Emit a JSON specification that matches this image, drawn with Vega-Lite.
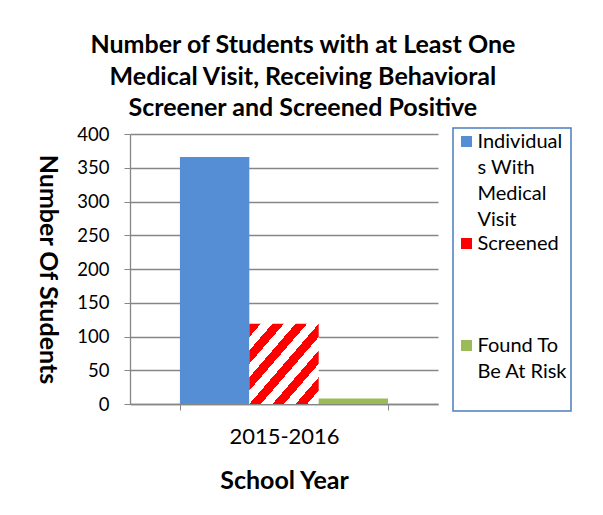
{
  "$schema": "https://vega.github.io/schema/vega-lite/v6.json",
  "width": 308,
  "height": 270,
  "autosize": {"type": "none"},
  "padding": {"left": 130, "top": 134, "right": 165, "bottom": 111},
  "background": "white",
  "config": {
    "font": "Lato",
    "view": {"stroke": null},
    "style": {"guide-label": {"lineHeight": 26}},
    "legend": {"strokeWidth": 1.5}
  },
  "title": {
    "text": ["Number of Students with at Least One", "Medical Visit, Receiving Behavioral", "Screener and Screened Positive"],
    "fontSize": 25,
    "fontWeight": "bold",
    "lineHeight": 31.5,
    "color": "black",
    "anchor": "middle",
    "frame": "bounds",
    "offset": 4
  },
  "data": {
    "values": [
      {"year": "2015-2016", "series": "Individuals With Medical Visit", "students": 366},
      {"year": "2015-2016", "series": "Screened", "students": 119},
      {"year": "2015-2016", "series": "Found To Be At Risk", "students": 8}
    ]
  },
  "mark": {"type": "bar"},
  "encoding": {
    "x": {
      "field": "year",
      "type": "nominal",
      "scale": {"paddingInner": 0, "paddingOuter": 0.24},
      "axis": {
        "title": "School Year",
        "titleFontSize": 25,
        "titleFontWeight": "bold",
        "titleColor": "black",
        "titlePadding": 21,
        "labelFontSize": 22,
        "labelColor": "black",
        "labelAngle": 0,
        "labelPadding": 16,
        "tickBand": "extent",
        "tickSize": 6,
        "tickColor": "#868686",
        "domainColor": "#868686",
        "domainWidth": 1.3
      }
    },
    "xOffset": {
      "field": "series",
      "sort": ["Individuals With Medical Visit", "Screened", "Found To Be At Risk"],
      "scale": {"paddingInner": 0, "paddingOuter": 0}
    },
    "y": {
      "field": "students",
      "type": "quantitative",
      "scale": {"domain": [0, 400], "nice": false},
      "axis": {
        "title": "Number Of Students",
        "titleFontSize": 25,
        "titleFontWeight": "bold",
        "titleColor": "black",
        "titleAngle": 90,
        "titleX": -83,
        "titleY": 135,
        "titleAlign": "center",
        "titleBaseline": "middle",
        "labelFontSize": 18.5,
        "labelColor": "black",
        "labelPadding": 15,
        "tickSize": 6,
        "tickColor": "#868686",
        "domainColor": "#868686",
        "domainWidth": 1.3,
        "gridColor": "#868686",
        "gridWidth": 1.3,
        "values": [0, 50, 100, 150, 200, 250, 300, 350, 400]
      }
    },
    "color": {
      "condition": {
        "test": "datum.series === 'Screened'",
        "value": {
          "gradient": "linear",
          "x1": 0, "y1": 0, "x2": 1, "y2": 1,
          "stops": [
            {"offset": 0, "color": "#ff0000"}, {"offset": 0.08333, "color": "#ff0000"},
            {"offset": 0.08333, "color": "#ffffff"}, {"offset": 0.16667, "color": "#ffffff"},
            {"offset": 0.16667, "color": "#ff0000"}, {"offset": 0.25, "color": "#ff0000"},
            {"offset": 0.25, "color": "#ffffff"}, {"offset": 0.33333, "color": "#ffffff"},
            {"offset": 0.33333, "color": "#ff0000"}, {"offset": 0.41667, "color": "#ff0000"},
            {"offset": 0.41667, "color": "#ffffff"}, {"offset": 0.5, "color": "#ffffff"},
            {"offset": 0.5, "color": "#ff0000"}, {"offset": 0.58333, "color": "#ff0000"},
            {"offset": 0.58333, "color": "#ffffff"}, {"offset": 0.66667, "color": "#ffffff"},
            {"offset": 0.66667, "color": "#ff0000"}, {"offset": 0.75, "color": "#ff0000"},
            {"offset": 0.75, "color": "#ffffff"}, {"offset": 0.83333, "color": "#ffffff"},
            {"offset": 0.83333, "color": "#ff0000"}, {"offset": 0.91667, "color": "#ff0000"},
            {"offset": 0.91667, "color": "#ffffff"}, {"offset": 1, "color": "#ffffff"}
          ]
        }
      },
      "field": "series",
      "type": "nominal",
      "sort": ["Individuals With Medical Visit", "Screened", "Found To Be At Risk"],
      "scale": {
        "domain": ["Individuals With Medical Visit", "Screened", "Found To Be At Risk"],
        "range": ["#558ed5", "#ff0000", "#9bbb59"]
      },
      "legend": {
        "orient": "none",
        "legendX": 323,
        "legendY": -6,
        "title": null,
        "symbolType": "square",
        "symbolSize": 121,
        "symbolStrokeWidth": 0,
        "labelFontSize": 20,
        "labelColor": "black",
        "labelBaseline": "middle",
        "labelOffset": 1,
        "strokeColor": "#4a7ebb",
        "padding": 3.5,
        "rowPadding": 4,
        "labelExpr": "datum.label === 'Individuals With Medical Visit' ? ['Individual', 's With', 'Medical', 'Visit'] : datum.label === 'Screened' ? ['Screened', '', '', ''] : ['\u00a0Found To', 'Be At Risk', '']"
      }
    }
  }
}
